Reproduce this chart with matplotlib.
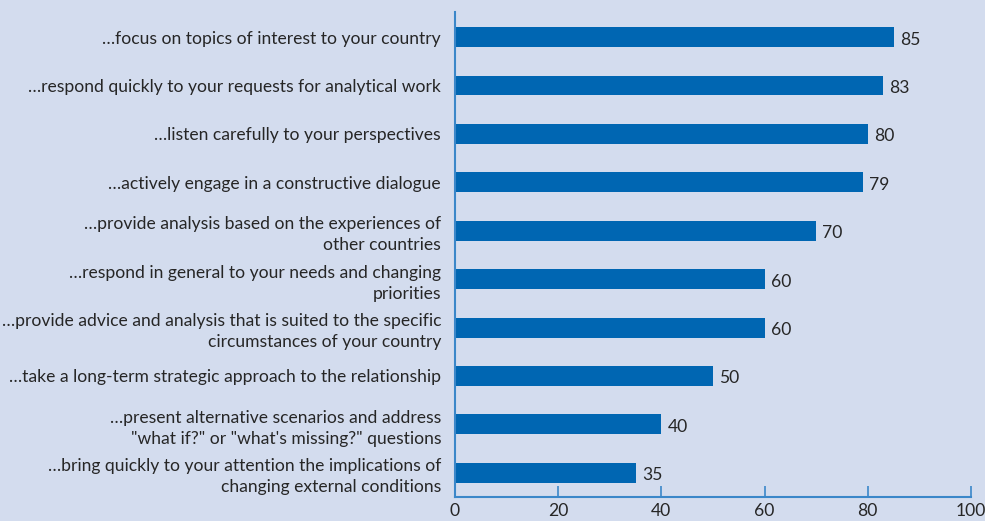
import matplotlib
matplotlib.use('Agg')
import matplotlib.pyplot as plt

labels = [
    '…focus on topics of interest to your country',
    '…respond quickly to your requests for analytical work',
    '…listen carefully to your perspectives',
    '…actively engage in a constructive dialogue',
    '…provide analysis based on the experiences of\nother countries',
    '…respond in general to your needs and changing\npriorities',
    '…provide advice and analysis that is suited to the specific\ncircumstances of your country',
    '…take a long-term strategic approach to the relationship',
    '…present alternative scenarios and address\n"what if?" or "what\'s missing?" questions',
    '…bring quickly to your attention the implications of\nchanging external conditions',
]
values = [85, 83, 80, 79, 70, 60, 60, 50, 40, 35]
xticks = [0, 20, 40, 60, 80, 100]

bg = '#d3dcee'
bar_col = '#0066b2'
axis_col = '#3b87c9'
txt = '#262626'

plt.rcParams['font.family'] = ['Lato', 'DejaVu Sans']

fig = plt.figure(figsize=(9.85, 5.21), dpi=100, facecolor=bg)
ax = fig.add_axes([455/985, 24/521, 516/985, 485/521])
ax.set_facecolor(bg)

ypos = list(range(len(values)))
ax.barh(ypos, values, height=0.41, color=bar_col)
for y, v in zip(ypos, values):
    ax.text(v + 1.2, y + 0.05, str(v), va='center', ha='left', fontsize=12.6, color=txt)

ax.set_xlim(0, 100)
ax.set_ylim(len(values) - 0.5, -0.52)
ax.set_yticks(ypos)
ax.set_yticklabels(labels, fontsize=12.6, color=txt, linespacing=1.4)
ax.set_xticks(xticks)
ax.set_xticklabels([str(t) for t in xticks], fontsize=12.6, color=txt)

for s in ['top', 'right']:
    ax.spines[s].set_visible(False)
for s in ['left', 'bottom']:
    ax.spines[s].set_color(axis_col)
    ax.spines[s].set_linewidth(1.5)
ax.tick_params(axis='y', length=0, pad=10)
ax.tick_params(axis='x', direction='in', length=8, width=1.2, color=axis_col, pad=4)

plt.savefig('out.png', dpi=100, facecolor=bg)
